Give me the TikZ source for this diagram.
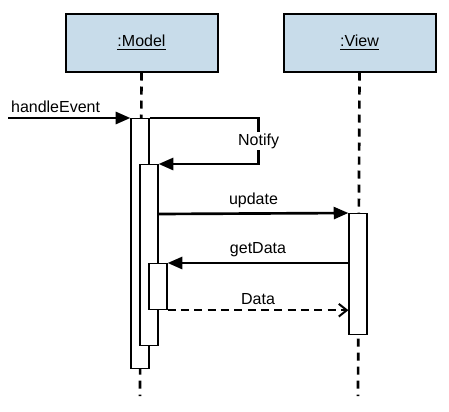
\documentclass[tikz,border=0pt]{standalone}
\usepackage{fontspec}
\setmainfont{Liberation Sans}
\usetikzlibrary{arrows.meta}

\definecolor{headblue}{RGB}{200,220,234}

\begin{document}
\begin{tikzpicture}[x=0.75pt, y=-0.75pt,
        every node/.style={font=\fontsize{12}{14}\selectfont},
        head/.style={draw, line width=1.5pt, fill=headblue, minimum width=114pt, minimum height=43.5pt},
        act/.style={draw, line width=0.9pt, fill=white, minimum width=13.5pt, anchor=north, inner sep=0pt},
        life/.style={line width=2pt, dash pattern=on 6pt off 4.5pt},
        call/.style={line width=2pt, -{Triangle[length=11pt, width=9pt]}},
        reply/.style={line width=1.9pt, dash pattern=on 6pt off 4pt, -{Straight Barb[length=6pt, width=9.5pt, line width=1.5pt]}}]

        \useasboundingbox (0,0) rectangle (449,411);

        \node[head] (model) at (141.5,42.5) {\underline{:Model}};
        \node[head] (view) at (359.5,42.5) {\underline{:View}};

        \coordinate (start) at (8,118);
        \coordinate (modelend) at (140,396);
        \coordinate (viewend) at (358,396);

        % #######################################

        \draw[life] (model.south) -- (modelend);
        \draw[life] (view.south) -- (viewend);

        \node[act, minimum height=187.5pt] (handle) at (140,118) {};
        \node[act, minimum height=135.75pt] (notify) at (149,164) {};
        \node[act, minimum height=34.5pt] (getdata) at (158,263) {};
        \node[act, minimum height=90.75pt] (update) at (358,213) {};

        % #######################################

        \draw[call] (start) node[above right, xshift=-2pt] {handleEvent} -- (handle.north west);

        \draw[call] (handle.north east) -- ++(109,0)
        -- node[fill=white, inner sep=1pt] {Notify} ++(0,46) -- (notify.north east);

        \draw[call] (notify.east |- 0,214) -- node[above] {update}
        (update.north west);

        \draw[call] (update.west |- 0,263) -- node[above] {getData}
        (getdata.north east);

        \draw[reply] (getdata.south east) -- node[above] {Data}
        (update.west |- getdata.south east);

    \end{tikzpicture}
\end{document}
